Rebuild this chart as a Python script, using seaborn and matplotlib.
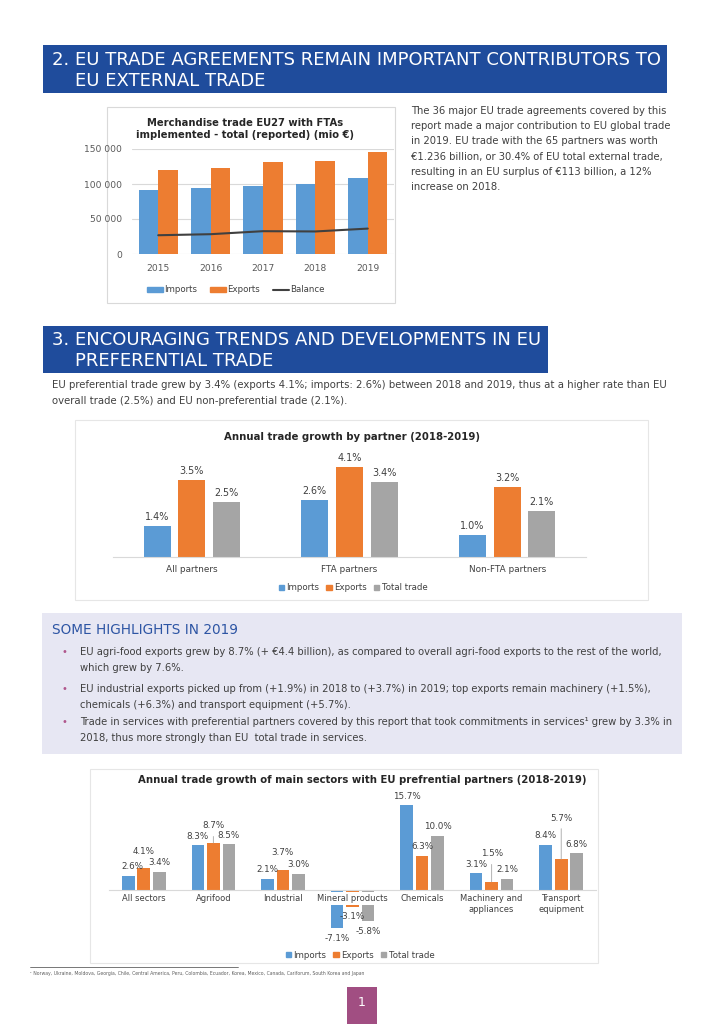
import numpy as np
import pandas as pd
import seaborn as sns
import matplotlib.pyplot as plt
from matplotlib.patches import Rectangle, Patch
from matplotlib.lines import Line2D

# Chart 1: merchandise trade EU27 with FTAs (mio EUR)
years = ['2015', '2016', '2017', '2018', '2019']
fta_imports = [91700, 94500, 97400, 100300, 108900]
fta_exports = [119900, 123200, 130900, 133200, 145200]
fta_balance = [26800, 28300, 32600, 32200, 36300]

# Chart 2: annual trade growth by partner (%)
partners = ['All partners', 'FTA partners', 'Non-FTA partners']
partner_imports = [1.4, 2.6, 1.0]
partner_exports = [3.5, 4.1, 3.2]
partner_total = [2.5, 3.4, 2.1]

# Chart 3: annual trade growth of main sectors (%)
sectors = ['All sectors', 'Agrifood', 'Industrial', 'Mineral products', 'Chemicals',
           'Machinery and\nappliances', 'Transport\nequipment']
sector_imports = [2.6, 8.3, 2.1, -7.1, 15.7, 3.1, 8.4]
sector_exports = [4.1, 8.7, 3.7, -3.1, 6.3, 1.5, 5.7]
sector_total = [3.4, 8.5, 3.0, -5.8, 10.0, 2.1, 6.8]

flows = ['Imports', 'Exports', 'Total trade']

BLUE, ORANGE, GREY = '#5B9BD5', '#ED7D31', '#A5A5A5'
EU_BLUE = '#1f4c9c'
TXT = '#404040'
W, H = 724, 1024

sns.set_style('white')
plt.rcParams['font.family'] = ['DejaVu Sans']


def rect(x0, y0, x1, y1):
    return [x0 / W, 1 - y1 / H, (x1 - x0) / W, (y1 - y0) / H]


def fx(x):
    return x / W


def fy(y):
    return 1 - y / H


def box(x0, y0, x1, y1, fc='white', ec='none', lw=0.8):
    fig.add_artist(Rectangle((fx(x0), fy(y1)), (x1 - x0) / W, (y1 - y0) / H,
                             transform=fig.transFigure, facecolor=fc, edgecolor=ec, lw=lw, zorder=0))


def clean(ax):
    for s in ax.spines.values():
        s.set_visible(False)
    ax.set_xlabel('')
    ax.set_ylabel('')
    ax.tick_params(length=0, colors='#595959')
    ax.set_facecolor('none')


fig = plt.figure(figsize=(7.24, 10.24), dpi=100)

# ---- section headers
box(43, 45, 667, 93, fc=EU_BLUE)
fig.text(fx(52), fy(60), '2. EU TRADE AGREEMENTS REMAIN IMPORTANT CONTRIBUTORS TO',
         color='white', fontsize=13, va='center')
fig.text(fx(75), fy(81), 'EU EXTERNAL TRADE', color='white', fontsize=13, va='center')

box(43, 326, 548, 373, fc=EU_BLUE)
fig.text(fx(52), fy(340), '3. ENCOURAGING TRENDS AND DEVELOPMENTS IN EU',
         color='white', fontsize=13, va='center')
fig.text(fx(75), fy(361), 'PREFERENTIAL TRADE', color='white', fontsize=13, va='center')

# ---- chart 1
box(107, 107, 395, 303, ec='#d9d9d9')
ax1 = fig.add_axes(rect(132, 149, 394, 254))
df1 = pd.DataFrame({'year': years * 2,
                    'flow': ['Imports'] * len(years) + ['Exports'] * len(years),
                    'value': fta_imports + fta_exports})
sns.barplot(data=df1, x='year', y='value', hue='flow', hue_order=['Imports', 'Exports'],
            palette=[BLUE, ORANGE], width=0.75, gap=0, saturation=1, errorbar=None,
            linewidth=0, legend=False, ax=ax1, zorder=2)
sns.lineplot(x=np.arange(len(years)), y=fta_balance, color='#404040', lw=1.5, ax=ax1, zorder=3)
ax1.set_xlim(-0.5, len(years) - 0.5)
ax1.set_ylim(0, 150000)
ax1.set_yticks([0, 50000, 100000, 150000])
ax1.set_yticklabels([f'{v:,}'.replace(',', ' ') for v in [0, 50000, 100000, 150000]])
ax1.set_xticks(range(len(years)))
ax1.set_xticklabels(years)
clean(ax1)
ax1.grid(axis='y', color='#d9d9d9', lw=0.8)
ax1.set_axisbelow(True)
ax1.tick_params(axis='y', labelsize=6.6, pad=7)
ax1.tick_params(axis='x', labelsize=6.6, pad=7)
fig.text(fx(245), fy(129), 'Merchandise trade EU27 with FTAs\nimplemented - total (reported) (mio €)',
         ha='center', va='center', fontsize=7.2, fontweight='bold', color='#262626', linespacing=1.3)
fig.legend([Patch(color=BLUE), Patch(color=ORANGE), Line2D([], [], color='#404040', lw=1.5)],
           ['Imports', 'Exports', 'Balance'], loc='center', bbox_to_anchor=(fx(236), fy(290)),
           ncol=3, frameon=False, fontsize=6.2, handlelength=1.8, handleheight=0.6,
           handletextpad=0.2, columnspacing=1.5, labelcolor='#404040')

para1 = ['The 36 major EU trade agreements covered by this',
         'report made a major contribution to EU global trade',
         'in 2019. EU trade with the 65 partners was worth',
         '€1.236 billion, or 30.4% of EU total external trade,',
         'resulting in an EU surplus of €113 billion, a 12%',
         'increase on 2018.']
for i, line in enumerate(para1):
    fig.text(fx(411), fy(111 + i * 15.2), line, fontsize=7.2, color=TXT, va='center')

# ---- section 3 text
fig.text(fx(52), fy(385), 'EU preferential trade grew by 3.4% (exports 4.1%; imports: 2.6%) between 2018 and 2019, '
         'thus at a higher rate than EU', fontsize=7.3, color=TXT, va='center')
fig.text(fx(52), fy(401), 'overall trade (2.5%) and EU non-preferential trade (2.1%).',
         fontsize=7.3, color=TXT, va='center')

# ---- chart 2
box(75, 420, 648, 600, ec='#e6e6e6')
ax2 = fig.add_axes(rect(113, 447, 586, 557))
df2 = pd.DataFrame({'partner': partners * 3,
                    'flow': np.repeat(flows, len(partners)),
                    'value': partner_imports + partner_exports + partner_total})
sns.barplot(data=df2, x='partner', y='value', hue='flow', hue_order=flows,
            palette=[BLUE, ORANGE, GREY], width=0.66, gap=0.23, saturation=1, errorbar=None,
            linewidth=0, legend=False, ax=ax2)
ax2.set_xlim(-0.5, len(partners) - 0.5)
ax2.set_ylim(0, 5)
clean(ax2)
ax2.set_yticks([])
ax2.spines['bottom'].set_visible(True)
ax2.spines['bottom'].set_color('#d9d9d9')
ax2.tick_params(axis='x', labelsize=6.4, pad=6, colors='#404040')
for j, series in enumerate([partner_imports, partner_exports, partner_total]):
    for i, v in enumerate(series):
        bar = ax2.containers[j][i]
        xc = bar.get_x() + bar.get_width() / 2
        ax2.annotate(f'{v:.1f}%', (xc, v), xytext=(0, 6.5), textcoords='offset points',
                     ha='center', va='center', fontsize=6.9, color='#404040')
fig.text(fx(352), fy(437), 'Annual trade growth by partner (2018-2019)', ha='center', va='center',
         fontsize=7.3, fontweight='bold', color='#262626')
fig.legend([Patch(color=c) for c in [BLUE, ORANGE, GREY]], flows, loc='center',
           bbox_to_anchor=(fx(353), fy(588)), ncol=3, frameon=False, fontsize=6.2,
           handlelength=0.6, handleheight=0.6, handletextpad=0.3, columnspacing=0.8,
           labelcolor='#404040')

# ---- highlights box
box(42, 613, 682, 754, fc='#e7e7f3')
fig.text(fx(52), fy(630), 'SOME HIGHLIGHTS IN 2019', fontsize=9.8, color='#2d55a4', va='center')
bullets = [['EU agri-food exports grew by 8.7% (+ €4.4 billion), as compared to overall agri-food exports '
            'to the rest of the world,', 'which grew by 7.6%.'],
           ['EU industrial exports picked up from (+1.9%) in 2018 to (+3.7%) in 2019; top exports remain '
            'machinery (+1.5%),', 'chemicals (+6.3%) and transport equipment (+5.7%).'],
           ['Trade in services with preferential partners covered by this report that took commitments '
            'in services¹ grew by 3.3% in', '2018, thus more strongly than EU  total trade in services.']]
for k, (y0, lines) in enumerate(zip([652, 689, 722], bullets)):
    fig.text(fx(64), fy(y0), '•', fontsize=7, color='#b0578c', va='center', ha='center')
    for i, line in enumerate(lines):
        fig.text(fx(80), fy(y0 + i * 16), line, fontsize=7.2, color=TXT, va='center')

# ---- chart 3
box(90, 769, 598, 963, ec='#e6e6e6')
ax3 = fig.add_axes(rect(109, 795, 596, 935))
df3 = pd.DataFrame({'sector': sectors * 3,
                    'flow': np.repeat(flows, len(sectors)),
                    'value': sector_imports + sector_exports + sector_total})
sns.barplot(data=df3, x='sector', y='value', hue='flow', hue_order=flows,
            palette=[BLUE, ORANGE, GREY], width=0.67, gap=0.19, saturation=1, errorbar=None,
            linewidth=0, legend=False, ax=ax3)
ax3.set_xlim(-0.5, len(sectors) - 0.5)
ax3.set_ylim(-8.32, 17.56)
clean(ax3)
ax3.set_axisbelow(False)
ax3.set_yticks([])
ax3.spines['bottom'].set_visible(True)
ax3.spines['bottom'].set_position(('data', 0))
ax3.spines['bottom'].set_color('#d9d9d9')
ax3.tick_params(axis='x', labelsize=6.0, pad=3, colors='#404040')
for t in ax3.get_xticklabels():
    t.set_bbox(dict(facecolor='white', edgecolor='none', pad=1.2))
    t.set_linespacing(1.25)

# label offsets in pixels (dx, dy), default above / below the bar end
nudges = {(0, 0): (4, 9), (0, 1): (0, 16), (1, 1): (0, 17), (2, 1): (0, 17),
          (5, 1): (0, 28), (6, 1): (0, 41)}
leaders = {(1, 1), (5, 1), (6, 1)}
for j, series in enumerate([sector_imports, sector_exports, sector_total]):
    for i, v in enumerate(series):
        bar = ax3.containers[j][i]
        xc = bar.get_x() + bar.get_width() / 2
        dx, dy = nudges.get((i, j), (0, 9 if v >= 0 else -10))
        arrow = dict(arrowstyle='-', color='#a6a6a6', lw=0.6, shrinkA=2, shrinkB=0) \
            if (i, j) in leaders else None
        ax3.annotate(f'{v:.1f}%', (xc, v), xytext=(dx * 0.72, dy * 0.72), textcoords='offset points',
                     ha='center', va='center', fontsize=6.3, color='#404040', arrowprops=arrow,
                     zorder=4)
fig.text(fx(362), fy(780), 'Annual trade growth of main sectors with EU prefrential partners (2018-2019)',
         ha='center', va='center', fontsize=7.3, fontweight='bold', color='#262626')
fig.legend([Patch(color=c) for c in [BLUE, ORANGE, GREY]], flows, loc='center',
           bbox_to_anchor=(fx(360), fy(955)), ncol=3, frameon=False, fontsize=6.2,
           handlelength=0.6, handleheight=0.6, handletextpad=0.3, columnspacing=0.8,
           labelcolor='#404040')

# ---- footnote and page number
fig.add_artist(Line2D([fx(30), fx(238)], [fy(967), fy(967)], color='#404040', lw=0.5,
                      transform=fig.transFigure))
fig.text(fx(30), fy(973), '¹ Norway, Ukraine, Moldova, Georgia, Chile, Central America, Peru, Colombia, '
         'Ecuador, Korea, Mexico, Canada, Cariforum, South Korea and Japan',
         fontsize=3.3, color='#606060', va='center')
box(347, 987, 377, 1024, fc='#a14e82')
fig.text(fx(362), fy(1003), '1', color='white', fontsize=9, ha='center', va='center')

fig.savefig('out.png', dpi=100)
